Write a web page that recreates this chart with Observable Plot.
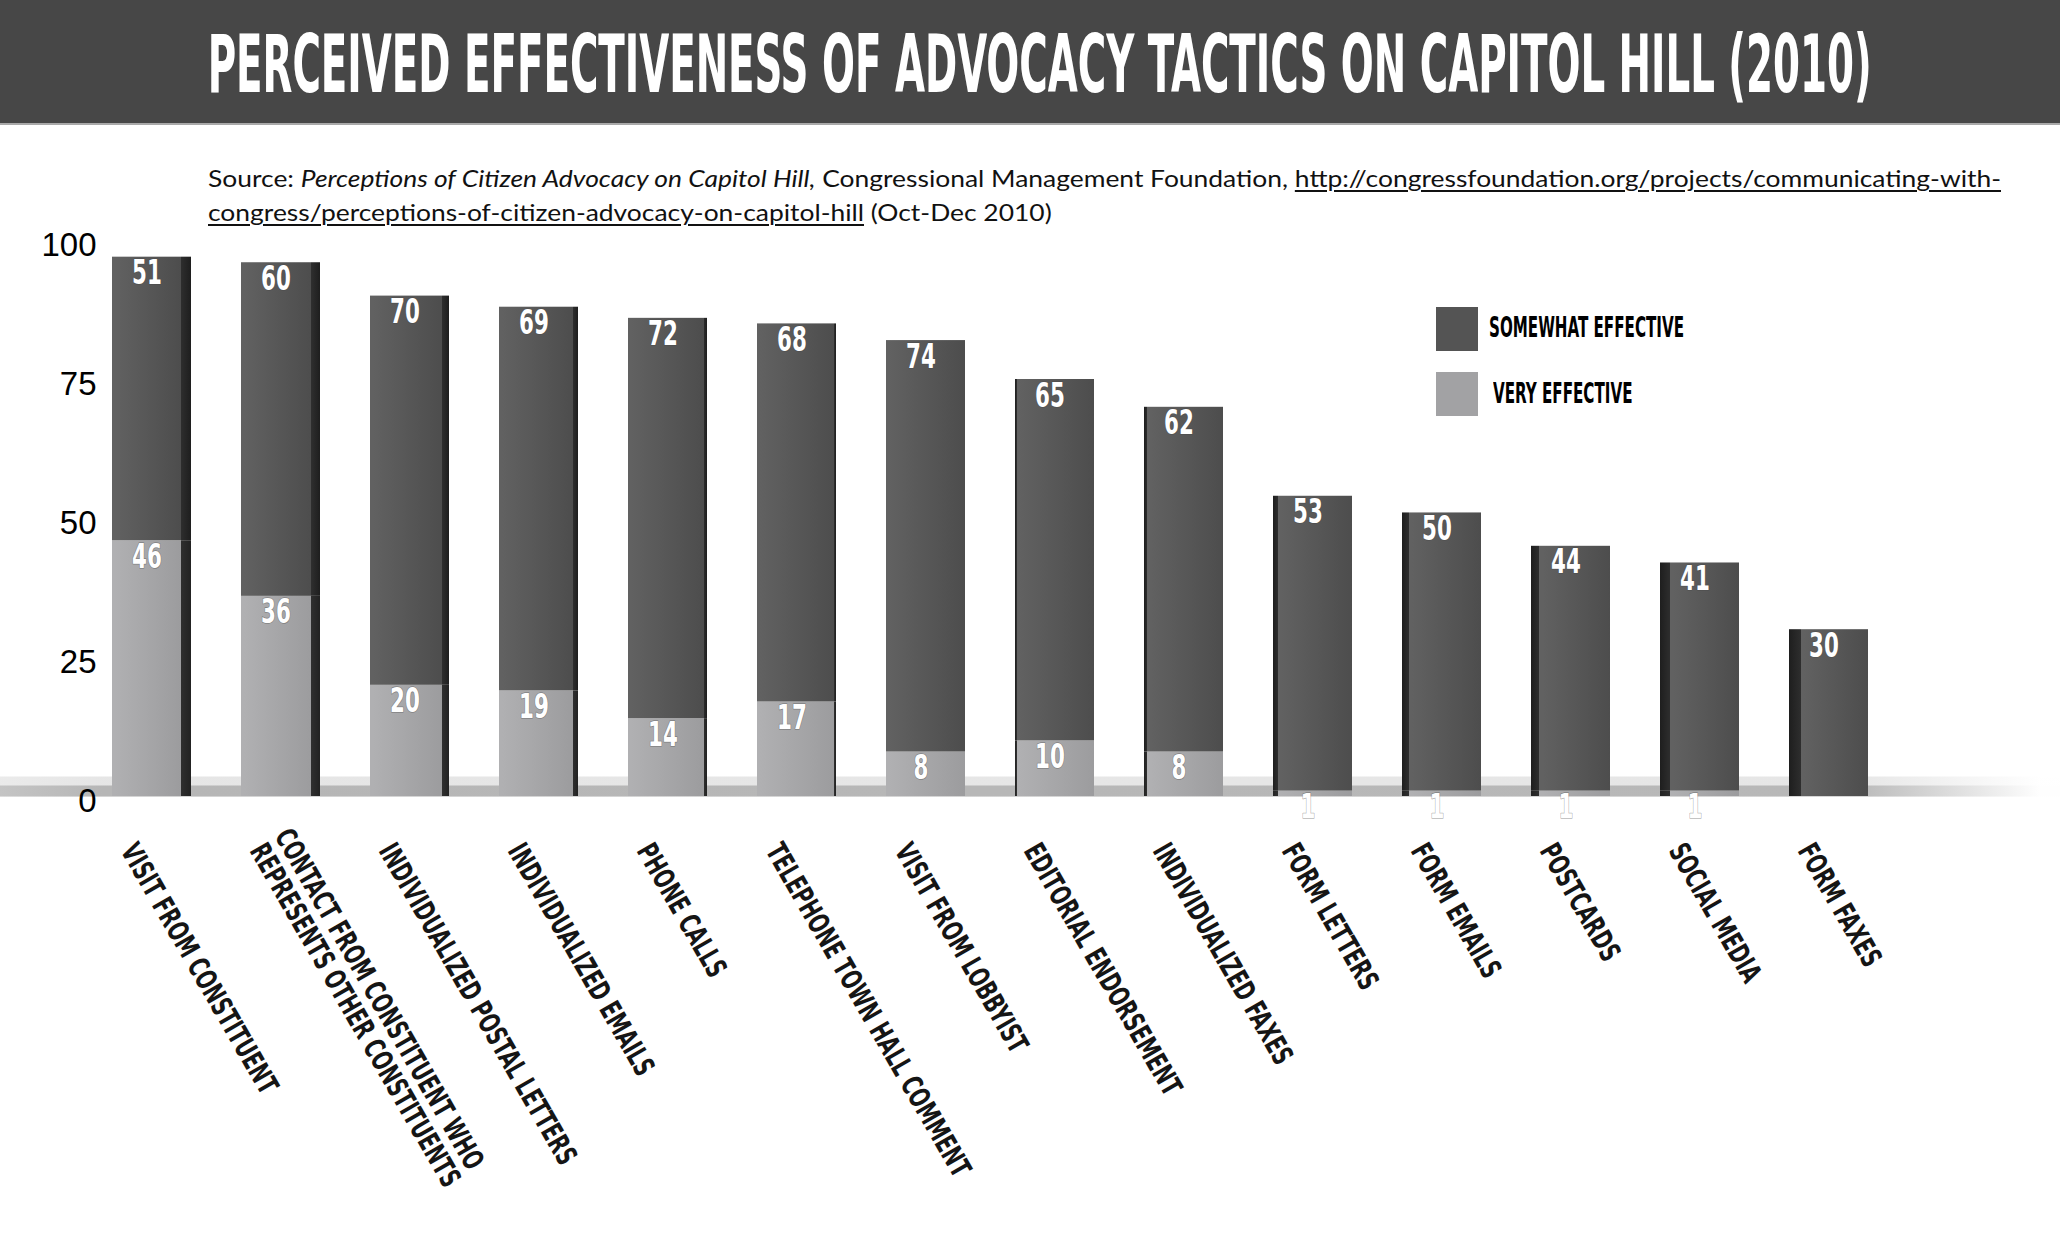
<!DOCTYPE html>
<html>
<head>
<meta charset="utf-8">
<script src="https://cdn.jsdelivr.net/npm/d3@7"></script>
<script src="https://cdn.jsdelivr.net/npm/@observablehq/plot@0.6"></script>
<style>
  html, body { margin: 0; padding: 0; background: #fff; }
  body { width: 2060px; height: 1247px; position: relative; overflow: hidden; }
  #title { position: absolute; left: 0; top: 0; width: 2060px; height: 125px; background: #474747;
           border-bottom: 2px solid #a9a9a9; box-sizing: border-box;
           display: flex; align-items: center; justify-content: center; padding-left: 20px; padding-top: 6px; }
  #title span { display: inline-block; color: #fff; font-family: "Liberation Sans Narrow", "Arial Narrow", "DejaVu Sans Condensed", sans-serif;
           font-weight: bold; font-size: 80px; line-height: 1; white-space: nowrap; transform-origin: center center; }
  #source { position: absolute; left: 208px; top: 161px; font-family: Lato, "Open Sans", sans-serif; font-size: 24px;
           line-height: 34px; color: #111; white-space: nowrap; transform-origin: left top; }
  #source u { text-decoration-thickness: 1.5px; text-underline-offset: 3px; }
  #chart { position: absolute; left: 0; top: 125px; }
  .lg-sw { position: absolute; width: 42px; height: 44px; }
  .lg-tx { position: absolute; font-family: "Liberation Sans Narrow", "Arial Narrow", "DejaVu Sans Condensed", sans-serif;
           font-weight: bold; font-size: 29px; line-height: 29px; color: #000; white-space: nowrap; transform-origin: left top; }
</style>
</head>
<body>
<div id="title"><span id="tt"></span></div>
<div id="source"><span id="src1"></span><br><span id="src2"></span></div>
<div id="chart"></div>
<div id="legend"></div>
<script>
// ---- data ----
const TITLE = "PERCEIVED EFFECTIVENESS OF ADVOCACY TACTICS ON CAPITOL HILL (2010)";
const TACTICS = [
  "VISIT FROM CONSTITUENT",
  "CONTACT FROM CONSTITUENT WHO\nREPRESENTS OTHER CONSTITUENTS",
  "INDIVIDUALIZED POSTAL LETTERS",
  "INDIVIDUALIZED EMAILS",
  "PHONE CALLS",
  "TELEPHONE TOWN HALL COMMENT",
  "VISIT FROM LOBBYIST",
  "EDITORIAL ENDORSEMENT",
  "INDIVIDUALIZED FAXES",
  "FORM LETTERS",
  "FORM EMAILS",
  "POSTCARDS",
  "SOCIAL MEDIA",
  "FORM FAXES"
];
const VERY_EFFECTIVE     = [46, 36, 20, 19, 14, 17, 8, 10, 8, 1, 1, 1, 1, 0];
const SOMEWHAT_EFFECTIVE = [51, 60, 70, 69, 72, 68, 74, 65, 62, 53, 50, 44, 41, 30];
const SERIES = ["Very effective", "Somewhat effective"];
const LEGEND_LABELS = ["SOMEWHAT EFFECTIVE", "VERY EFFECTIVE"];
const Y_TICKS = [0, 25, 50, 75, 100];

// ---- text blocks ----
document.getElementById("tt").textContent = TITLE;
document.getElementById("src1").innerHTML =
  'Source: <i>Perceptions of Citizen Advocacy on Capitol Hill,</i> Congressional Management Foundation, <u>http://congressfoundation.org/projects/communicating-with-</u>';
document.getElementById("src2").innerHTML =
  '<u>congress/perceptions-of-citizen-advocacy-on-capitol-hill</u> (Oct-Dec 2010)';

// ---- table ----
const rows = TACTICS.flatMap((t, i) => [
  {tactic: t, i, series: SERIES[0], value: VERY_EFFECTIVE[i]},
  {tactic: t, i, series: SERIES[1], value: SOMEWHAT_EFFECTIVE[i]}
]);

const COND = '"Liberation Sans Narrow", "Arial Narrow", "DejaVu Sans Condensed", sans-serif';

const chart = Plot.plot({
  width: 2060,
  height: 1122,
  marginLeft: 0,
  marginRight: 0,
  marginTop: 115,
  marginBottom: 451,
  style: {background: "transparent", overflow: "visible"},
  x: {domain: TACTICS, range: [61, 1918], padding: 0.388},
  y: {domain: [0, 100]},
  color: {type: "identity"},
  marks: [
    Plot.ruleY([0], {stroke: "url(#floor)", strokeWidth: 20, dy: -10, strokeOpacity: 0.35}),
    Plot.ruleY([0], {stroke: "url(#floor)", strokeWidth: 11, dy: -5.5}),
    Plot.barY(rows, Plot.stackY({
      x: "tactic", y: "value", z: "series",
      fill: d => `url(#g-${d.series === SERIES[0] ? "lt" : "dk"}-${d.i})`
    })),
    Plot.text(rows.filter(d => d.value > 0), Plot.stackY2({
      x: "tactic", y: "value", z: "series",
      text: d => String(d.value),
      fill: "white", stroke: "#444", strokeOpacity: 0.4, strokeWidth: 1.6, paintOrder: "stroke",
      fontFamily: COND, fontWeight: "bold", fontSize: 34,
      lineAnchor: "top", dy: 3, dx: -5
    })),
    Plot.axisX({
      tickSize: 0, tickPadding: 0, tickRotate: 60, textAnchor: "start", lineAnchor: "bottom",
      fontFamily: COND, fontWeight: "bold", fontSize: 29, fill: "#151515",
      dx: -32, dy: 54, label: null
    }),
    Plot.axisY({
      ticks: Y_TICKS, tickSize: 0, tickPadding: 0, textAnchor: "end",
      fontFamily: '"Liberation Sans", Arial, sans-serif', fontSize: 33, fill: "#000",
      dx: 96, dy: 5, label: null
    })
  ]
});
document.getElementById("chart").appendChild(chart);

// ---- gradients (styling) ----
const svg = d3.select(chart);
const defs = svg.insert("defs", ":first-child");
const floor = defs.append("linearGradient").attr("id", "floor")
  .attr("gradientUnits", "userSpaceOnUse").attr("x1", 0).attr("x2", 2060).attr("y1", 0).attr("y2", 0);
[[0, "#c4c4c4"], [0.05, "#b6b6b6"], [0.9, "#b8b8b8"], [0.99, "#fefefe"]].forEach(([o, c]) =>
  floor.append("stop").attr("offset", o).attr("stop-color", c));

const bw = chart.scale("x").bandwidth;
TACTICS.forEach((t, i) => {
  const side = 1.7 * Math.abs(i - 6);
  const f = side / bw;
  const palettes = {
    dk: {f0: "#616161", f1: "#4d4d4d", s0: "#2e2e2e", s1: "#1e1e1e"},
    lt: {f0: "#b0b0b2", f1: "#9c9c9e", s0: "#2f2f2f", s1: "#222222"}
  };
  Object.entries(palettes).forEach(([k, p]) => {
    const g = defs.append("linearGradient").attr("id", `g-${k}-${i}`)
      .attr("x1", 0).attr("x2", 1).attr("y1", 0).attr("y2", 0);
    let stops;
    if (i <= 6) {
      stops = [[0, p.f0], [0.04, p.f0], [1 - f, p.f1], [1 - f, p.s0], [1, p.s1]];
    } else {
      stops = [[0, p.s1], [f, p.s0], [f, p.f0], [f + 0.04, p.f0], [1, p.f1]];
    }
    stops.forEach(([o, c]) => g.append("stop").attr("offset", o).attr("stop-color", c));
  });
});

// ---- condense the SVG texts horizontally (font styling) ----
function squeeze(el, k) {
  const t = el.getAttribute("transform") || "";
  el.setAttribute("transform", `${t} scale(${k},1)`);
}
const xLabels = svg.selectAll("g[aria-label='x-axis tick label'] text").nodes();
const ref = xLabels.find(el => el.textContent === TACTICS[0]);
const kx = ref ? Math.min(1, 284 / ref.getComputedTextLength()) : 0.78;
xLabels.forEach(el => squeeze(el, kx));
svg.selectAll("g[aria-label='text'] text").nodes().forEach(el => squeeze(el, 0.7));

// ---- legend (HTML overlay) ----
const legend = document.getElementById("legend");
const LEGEND_COLORS = ["#545454", "#a2a2a4"];
const LEGEND_SW_TOP = [307, 372];
const LEGEND_TX = [[1489, 312.5], [1493, 378.5]];
LEGEND_LABELS.forEach((lab, k) => {
  const sw = document.createElement("div");
  sw.className = "lg-sw";
  sw.style.left = "1436px"; sw.style.top = LEGEND_SW_TOP[k] + "px"; sw.style.background = LEGEND_COLORS[k];
  legend.appendChild(sw);
  const tx = document.createElement("div");
  tx.className = "lg-tx";
  tx.textContent = lab;
  tx.style.left = LEGEND_TX[k][0] + "px"; tx.style.top = LEGEND_TX[k][1] + "px";
  legend.appendChild(tx);
});
const lgs = legend.querySelectorAll(".lg-tx");
const kLg = 195 / lgs[0].getBoundingClientRect().width;
lgs.forEach(el => el.style.transform = `scaleX(${kLg})`);

// ---- fit title and source widths ----
const tt = document.getElementById("tt");
tt.style.transform = `scaleX(${1664 / tt.getBoundingClientRect().width})`;
const src = document.getElementById("source");
const w1 = document.getElementById("src1").getBoundingClientRect().width;
src.style.transform = `scaleX(${1793 / w1})`;
</script>
</body>
</html>
